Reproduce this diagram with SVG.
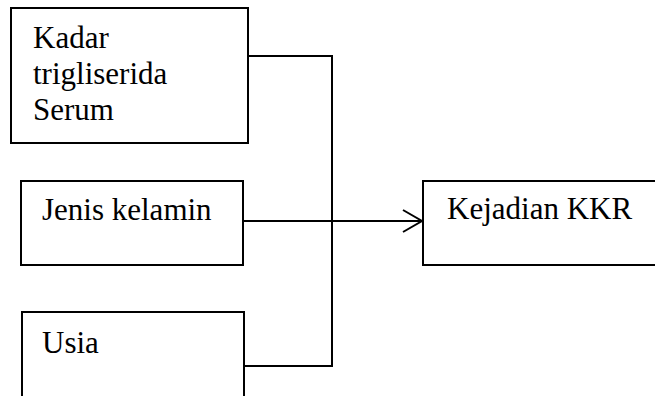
<svg xmlns="http://www.w3.org/2000/svg" width="655" height="396" viewBox="0 0 655 396">
  <style>
    .box { fill: #fff; stroke: #000; stroke-width: 2; }
    .wire { fill: none; stroke: #000; stroke-width: 2; }
    text { font-family: "Liberation Serif", "Times New Roman", serif; font-size: 31px; fill: #000; }
  </style>
  <defs>
    <marker id="open-arrow" markerWidth="22" markerHeight="26" refX="20" refY="12" orient="auto" markerUnits="userSpaceOnUse">
      <path d="M1,1 L20,12 L1,23" fill="none" stroke="#000" stroke-width="2"/>
    </marker>
  </defs>
  <g id="connectors">
    <polyline class="wire" points="248,56 332,56 332,366 244,366"/>
    <line class="wire" x1="243" y1="221" x2="422" y2="221" marker-end="url(#open-arrow)"/>
  </g>
  <g id="node-trigliserida">
    <rect class="box" x="11" y="8" width="237" height="135"/>
    <text x="33" y="48">Kadar</text>
    <text x="33" y="84">trigliserida</text>
    <text x="33" y="120">Serum</text>
  </g>
  <g id="node-jenis-kelamin">
    <rect class="box" x="21" y="181" width="222" height="84"/>
    <text x="42" y="220">Jenis kelamin</text>
  </g>
  <g id="node-usia">
    <rect class="box" x="22" y="312" width="222" height="90"/>
    <text x="42" y="353">Usia</text>
  </g>
  <g id="node-kejadian-kkr">
    <rect class="box" x="423" y="181" width="240" height="84"/>
    <text x="447" y="219">Kejadian KKR</text>
  </g>
</svg>
